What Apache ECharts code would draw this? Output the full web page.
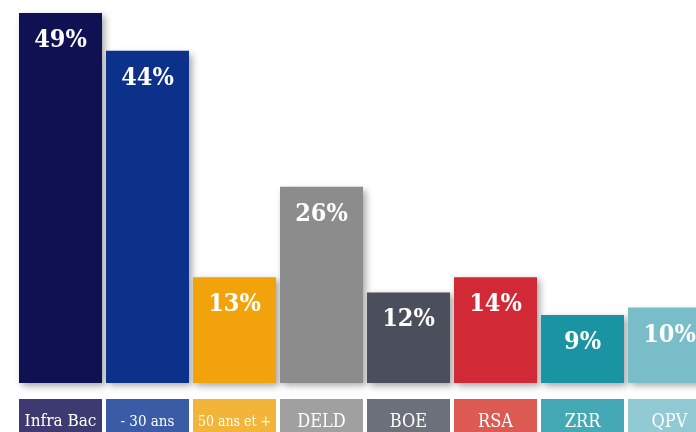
<!DOCTYPE html>
<html>
<head>
<meta charset="utf-8">
<style>
  html, body { margin: 0; padding: 0; background: #fff; }
  #chart { width: 696px; height: 432px; }
</style>
<script src="https://cdn.jsdelivr.net/npm/echarts@6/dist/echarts.min.js"></script>
</head>
<body>
<div id="chart"></div>
<script>
// data
const categories = ['Infra Bac', '- 30 ans', '50 ans et +', 'DELD', 'BOE', 'RSA', 'ZRR', 'QPV']
const values = [49, 44, 14, 26, 12, 14, 9, 10]
const valueLabels = ['49%', '44%', '13%', '26%', '12%', '14%', '9%', '10%']

const barColors = ['#0f1152', '#0c318a', '#f2a20a', '#8c8c8c', '#4a4f5b', '#d12a36', '#1a93a2', '#78bdc8']
const boxColors = ['#3d3a72', '#3a5ca6', '#f2b53a', '#a0a0a0', '#6c707b', '#dc5a52', '#45a9b5', '#92cad3']
const boxFontSizes = [17, 15, 14, 18, 18, 18, 18, 18]

const FONT = '"DejaVu Serif Condensed", "DejaVu Serif", serif'

const rich = {}
categories.forEach((c, i) => {
    rich['c' + i] = {
        backgroundColor: boxColors[i],
        color: '#fff',
        width: 83,
        height: 46,
        lineHeight: 46,
        align: 'center',
        verticalAlign: 'middle',
        fontFamily: FONT,
        fontSize: boxFontSizes[i]
    }
})

const chart = echarts.init(document.getElementById('chart'))
chart.setOption({
    animation: false,
    grid: {
        left: 17,
        width: 696,
        top: 5.5,
        bottom: 49,
        containLabel: false,
        outerBoundsMode: 'none'
    },
    xAxis: {
        type: 'category',
        data: categories,
        axisLine: { show: false },
        axisTick: { show: false },
        axisLabel: {
            interval: 0,
            margin: 16,
            formatter: (v, i) => '{c' + i + '|' + v + '}',
            rich: rich
        }
    },
    yAxis: {
        type: 'value',
        min: 0,
        max: 50,
        show: false,
        splitLine: { show: false }
    },
    series: [{
        type: 'bar',
        barWidth: 83,
        data: values.map((v, i) => ({
            value: v,
            itemStyle: { color: barColors[i] }
        })),
        itemStyle: {
            shadowBlur: 7,
            shadowColor: 'rgba(0,0,0,0.35)',
            shadowOffsetX: 3,
            shadowOffsetY: 3
        },
        label: {
            show: true,
            position: 'insideTop',
            distance: 15,
            color: '#fff',
            fontFamily: FONT,
            fontWeight: 'bold',
            fontSize: 25,
            formatter: p => valueLabels[p.dataIndex]
        }
    }]
})
</script>
</body>
</html>
